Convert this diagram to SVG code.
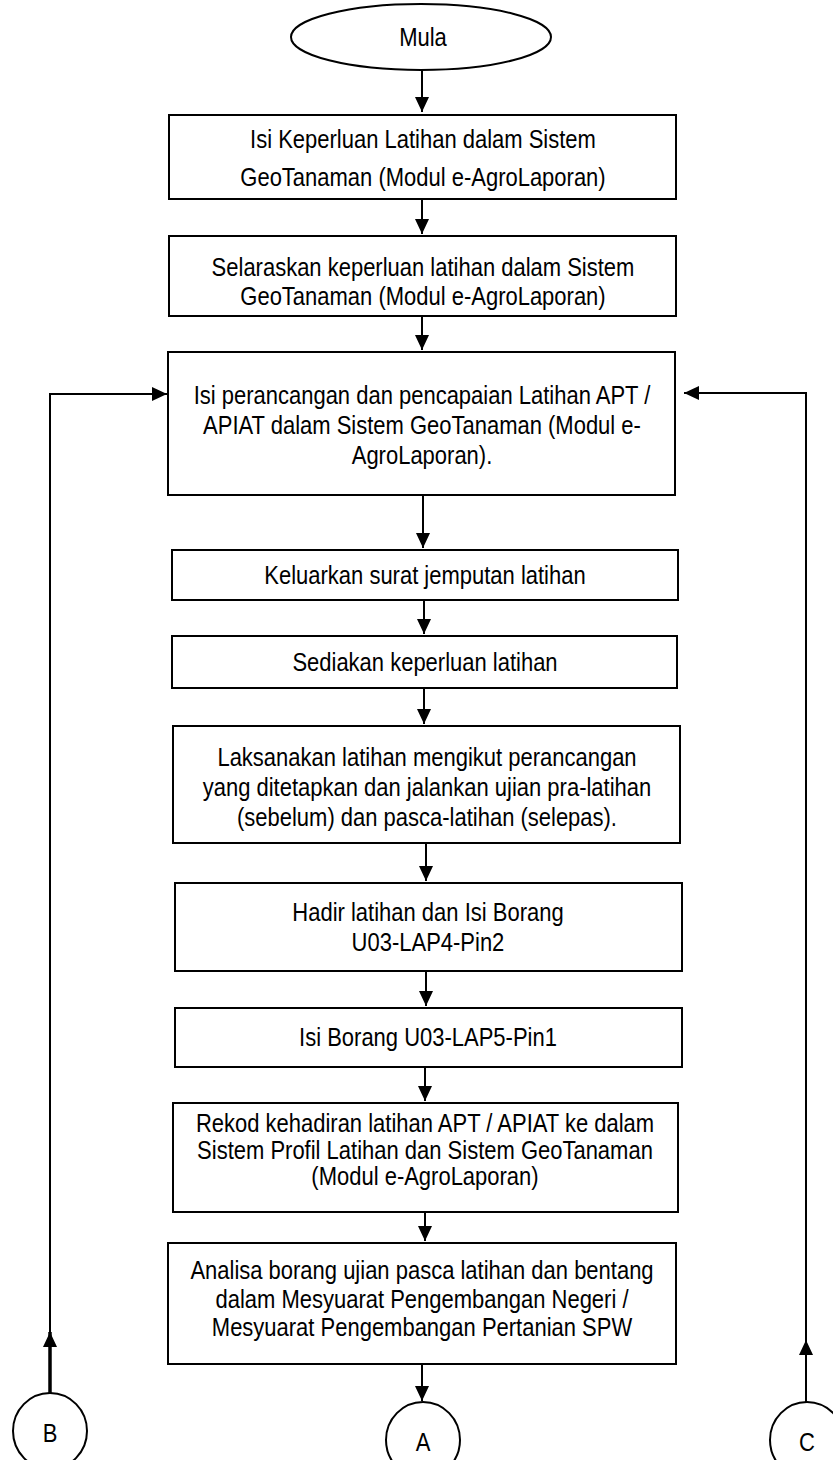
<svg xmlns="http://www.w3.org/2000/svg" width="833" height="1460" viewBox="0 0 833 1460">
<defs>
<marker id="ah" markerUnits="userSpaceOnUse" markerWidth="15" markerHeight="14" refX="15" refY="7" orient="auto">
<path d="M0,0 L15,7 L0,14 z" fill="#000"/>
</marker>
<style>
.b{fill:#fff;stroke:#000;stroke-width:2}
.t{font-family:"Liberation Sans",Arial,sans-serif;font-size:22px;fill:#000;text-anchor:middle;transform-box:fill-box;transform-origin:center;transform:scaleY(1.15)}
.c{fill:none;stroke:#000;stroke-width:2}
</style>
</defs>
<rect width="833" height="1460" fill="#fff"/>
<g id="start"><ellipse class="b" cx="421" cy="37" rx="130" ry="33"/><text class="t" x="423" y="45">Mula</text></g>
<g id="n1"><rect class="b" x="169" y="115" width="507" height="84"/>
<text class="t" x="423" y="147">Isi Keperluan Latihan dalam Sistem</text>
<text class="t" x="423" y="185">GeoTanaman (Modul e-AgroLaporan)</text></g>
<g id="n2"><rect class="b" x="169" y="236" width="507" height="80"/>
<text class="t" x="423" y="275">Selaraskan keperluan latihan dalam Sistem</text>
<text class="t" x="423" y="304">GeoTanaman (Modul e-AgroLaporan)</text></g>
<g id="n3"><rect class="b" x="168" y="352" width="507" height="143"/>
<text class="t" x="422" y="403">Isi perancangan dan pencapaian Latihan APT /</text>
<text class="t" x="422" y="433">APIAT dalam Sistem GeoTanaman (Modul e-</text>
<text class="t" x="422" y="463">AgroLaporan).</text></g>
<g id="n4"><rect class="b" x="172" y="550" width="506" height="50"/>
<text class="t" x="425" y="583">Keluarkan surat jemputan latihan</text></g>
<g id="n5"><rect class="b" x="172" y="636" width="505" height="52"/>
<text class="t" x="425" y="670">Sediakan keperluan latihan</text></g>
<g id="n6"><rect class="b" x="173" y="726" width="507" height="117"/>
<text class="t" x="427" y="765">Laksanakan latihan mengikut perancangan</text>
<text class="t" x="427" y="795">yang ditetapkan dan jalankan ujian pra-latihan</text>
<text class="t" x="427" y="825">(sebelum) dan pasca-latihan (selepas).</text></g>
<g id="n7"><rect class="b" x="175" y="883" width="507" height="88"/>
<text class="t" x="428" y="920">Hadir latihan dan Isi Borang</text>
<text class="t" x="428" y="950">U03-LAP4-Pin2</text></g>
<g id="n8"><rect class="b" x="175" y="1008" width="507" height="59"/>
<text class="t" x="428" y="1045">Isi Borang U03-LAP5-Pin1</text></g>
<g id="n9"><rect class="b" x="173" y="1103" width="505" height="109"/>
<text class="t" x="425" y="1131">Rekod kehadiran latihan APT / APIAT ke dalam</text>
<text class="t" x="425" y="1158">Sistem Profil Latihan dan Sistem GeoTanaman</text>
<text class="t" x="425" y="1184">(Modul e-AgroLaporan)</text></g>
<g id="n10"><rect class="b" x="168" y="1243" width="508" height="121"/>
<text class="t" x="422" y="1278">Analisa borang ujian pasca latihan dan bentang</text>
<text class="t" x="422" y="1307">dalam Mesyuarat Pengembangan Negeri /</text>
<text class="t" x="422" y="1335">Mesyuarat Pengembangan Pertanian SPW</text></g>
<g id="A"><ellipse class="b" cx="423" cy="1440" rx="37" ry="38"/><text class="t" x="423" y="1450">A</text></g>
<g id="B"><ellipse class="b" cx="50" cy="1431" rx="37" ry="38"/><text class="t" x="50" y="1441">B</text></g>
<g id="C"><ellipse class="b" cx="807" cy="1440" rx="37" ry="38"/><text class="t" x="807" y="1450">C</text></g>
<g id="connectors">
<line class="c" x1="422" y1="70" x2="422" y2="112" marker-end="url(#ah)"/>
<line class="c" x1="422" y1="199" x2="422" y2="234" marker-end="url(#ah)"/>
<line class="c" x1="422" y1="316" x2="422" y2="350" marker-end="url(#ah)"/>
<line class="c" x1="423" y1="495" x2="423" y2="548" marker-end="url(#ah)"/>
<line class="c" x1="424" y1="600" x2="424" y2="634" marker-end="url(#ah)"/>
<line class="c" x1="424" y1="688" x2="424" y2="724" marker-end="url(#ah)"/>
<line class="c" x1="426" y1="843" x2="426" y2="881" marker-end="url(#ah)"/>
<line class="c" x1="426" y1="971" x2="426" y2="1006" marker-end="url(#ah)"/>
<line class="c" x1="425" y1="1067" x2="425" y2="1101" marker-end="url(#ah)"/>
<line class="c" x1="425" y1="1212" x2="425" y2="1241" marker-end="url(#ah)"/>
<line class="c" x1="422" y1="1364" x2="422" y2="1401" marker-end="url(#ah)"/>
<line class="c" x1="50" y1="1393" x2="50" y2="1332" style="stroke-width:3.5" marker-end="url(#ah)"/>
<polyline class="c" points="50,1332 50,394 167,394" marker-end="url(#ah)"/>
<line class="c" x1="806" y1="1402" x2="806" y2="1340" marker-end="url(#ah)"/>
<polyline class="c" points="806,1340 806,393 684,393" marker-end="url(#ah)"/>
</g>
</svg>
